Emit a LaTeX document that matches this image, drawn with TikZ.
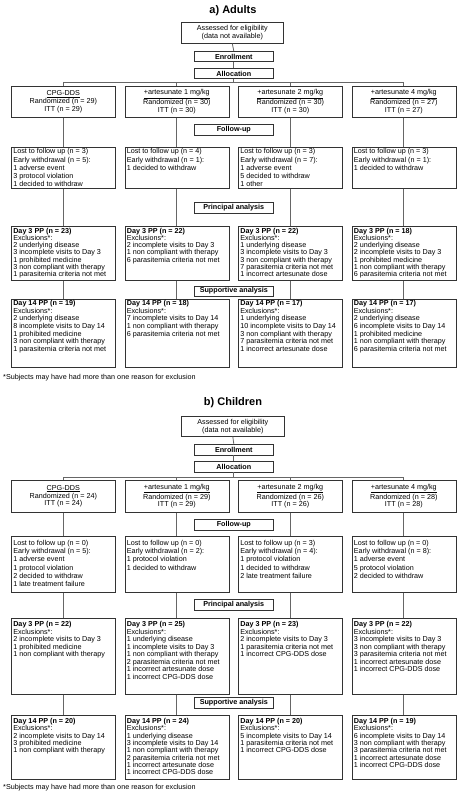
\documentclass[tikz,border=0pt]{standalone}
\usepackage{fontspec}
\setmainfont{Liberation Sans}
\tikzset{
  cbox/.style={draw=black!80, line width=0.6pt, inner sep=0pt, anchor=north west},
  lbl/.style={draw=black!80, line width=0.6pt, inner sep=0pt, minimum width=79pt, minimum height=10.5pt, font=\fontsize{7.2}{8}\selectfont\bfseries, anchor=north west},
  conn/.style={draw=black!60, line width=0.8pt},
  ttl/.style={font=\fontsize{11}{13}\selectfont\bfseries, inner sep=0pt},
  fnote/.style={font=\fontsize{7.2}{8}\selectfont, inner sep=0pt, anchor=west},
}
% name, x, y, width, height, first baseline, line spacing, text
\newcommand{\LB}[8]{\node[cbox] (#1) at (#2,#3) {\parbox[c][#5pt][t]{#4pt}{\fontsize{7.2}{#7pt}\selectfont\raggedright\leftskip=2pt\rule{0pt}{#6pt}#8\par}};}
\newcommand{\CB}[6]{\node[cbox] (#1) at (#2,#3) {\parbox[c][#5pt][c]{#4pt}{\fontsize{7.2}{7.9}\selectfont\centering #6\par}};}
\begin{document}
\begin{tikzpicture}[x=1pt,y=-1pt]
\useasboundingbox (0,0) rectangle (456,797);
% ================= ADULTS =================
\node[ttl] (A-t) at (233,11) {a) Adults};
\CB{A-as}{181}{22}{102}{21}{Assessed for eligibility\\(data not available)}
\node[lbl] (A-en) at (194,51) {Enrollment};
\node[lbl] (A-al) at (194,68) {Allocation};
\coordinate (A-hy) at (0,82);
\CB{A-a1}{11}{86}{104}{31}{\underline{CPG-DDS}\\Randomized (n = 29)\\ITT (n = 29)}
\CB{A-a2}{124.5}{86}{104}{31}{\underline{+artesunate 1 mg/kg}\\Randomized (n = 30)\\ITT (n = 30)}
\CB{A-a3}{238}{86}{104}{31}{\underline{+artesunate 2 mg/kg}\\Randomized (n = 30)\\ITT (n = 30)}
\CB{A-a4}{351.5}{86}{104}{31}{\underline{+artesunate 4 mg/kg}\\Randomized (n = 27)\\ITT (n = 27)}
\node[lbl] (A-fu) at (194,124) {Follow-up};
\LB{A-l1}{11}{147}{104}{41}{6.6}{8.1}{Lost to follow up (n = 3)\\Early withdrawal (n = 5):\\1 adverse event\\3 protocol violation\\1 decided to withdraw}
\LB{A-l2}{124.5}{147}{104}{41}{6.6}{8.1}{Lost to follow up (n = 4)\\Early withdrawal (n = 1):\\1 decided to withdraw}
\LB{A-l3}{238}{147}{104}{41}{6.6}{8.1}{Lost to follow up (n = 3)\\Early withdrawal (n = 7):\\1 adverse event\\5 decided to withdraw\\1 other}
\LB{A-l4}{351.5}{147}{104}{41}{6.6}{8.1}{Lost to follow up (n = 3)\\Early withdrawal (n = 1):\\1 decided to withdraw}
\node[lbl] (A-pa) at (194,202) {Principal analysis};
\LB{A-d1}{11}{226}{104}{54}{7}{7.2}{\textbf{Day 3 PP (n = 23)}\\Exclusions*:\\2 underlying disease\\3 incomplete visits to Day 3\\1 prohibited medicine\\3 non compliant with therapy\\1 parasitemia criteria not met}
\LB{A-d2}{124.5}{226}{104}{54}{7}{7.2}{\textbf{Day 3 PP (n = 22)}\\Exclusions*:\\2 incomplete visits to Day 3\\1 non compliant with therapy\\6 parasitemia criteria not met}
\LB{A-d3}{238}{226}{104}{54}{7}{7.2}{\textbf{Day 3 PP (n = 22)}\\Exclusions*:\\1 underlying disease\\3 incomplete visits to Day 3\\3 non compliant with therapy\\7 parasitemia criteria not met\\1 incorrect artesunate dose}
\LB{A-d4}{351.5}{226}{104}{54}{7}{7.2}{\textbf{Day 3 PP (n = 18)}\\Exclusions*:\\2 underlying disease\\2 incomplete visits to Day 3\\1 prohibited medicine\\1 non compliant with therapy\\6 parasitemia criteria not met}
\node[lbl] (A-sa) at (194,285.5) {Supportive analysis};
\LB{A-e1}{11}{298.5}{104}{68.5}{6.8}{7.65}{\textbf{Day 14 PP (n = 19)}\\Exclusions*:\\2 underlying disease\\8 incomplete visits to Day 14\\1 prohibited medicine\\3 non compliant with therapy\\1 parasitemia criteria not met}
\LB{A-e2}{124.5}{298.5}{104}{68.5}{6.8}{7.65}{\textbf{Day 14 PP (n = 18)}\\Exclusions*:\\7 incomplete visits to Day 14\\1 non compliant with therapy\\6 parasitemia criteria not met}
\LB{A-e3}{238}{298.5}{104}{68.5}{6.8}{7.65}{\textbf{Day 14 PP (n = 17)}\\Exclusions*:\\1 underlying disease\\10 incomplete visits to Day 14\\3 non compliant with therapy\\7 parasitemia criteria not met\\1 incorrect artesunate dose}
\LB{A-e4}{351.5}{298.5}{104}{68.5}{6.8}{7.65}{\textbf{Day 14 PP (n = 17)}\\Exclusions*:\\2 underlying disease\\6 incomplete visits to Day 14\\1 prohibited medicine\\1 non compliant with therapy\\6 parasitemia criteria not met}
\node[fnote] (A-fn) at (3,378) {*Subjects may have had more than one reason for exclusion};
\draw[conn] (A-as.south) -- (A-en.north);
\draw[conn] (A-en.south) -- (A-al.north);
\draw[conn] (A-al.south) -- (A-al.south |- A-hy);
\draw[conn] (A-a1.north |- A-hy) -- (A-a4.north |- A-hy);
\foreach \i in {1,2,3,4}{
  \draw[conn] (A-a\i.north |- A-hy) -- (A-a\i.north);
  \draw[conn] (A-a\i.south) -- (A-l\i.north);
  \draw[conn] (A-l\i.south) -- (A-d\i.north);
  \draw[conn] (A-d\i.south) -- (A-e\i.north);
}
% ================= CHILDREN =================
\node[ttl] (C-t) at (233,403) {b) Children};
\CB{C-as}{181}{416}{103}{20}{Assessed for eligibility\\(data not available)}
\node[lbl] (C-en) at (194,444) {Enrollment};
\node[lbl] (C-al) at (194,461) {Allocation};
\coordinate (C-hy) at (0,477);
\CB{C-a1}{11}{480}{104}{32}{\underline{CPG-DDS}\\Randomized (n = 24)\\ITT (n = 24)}
\CB{C-a2}{124.5}{480}{104}{32}{\underline{+artesunate 1 mg/kg}\\Randomized (n = 29)\\ITT (n = 29)}
\CB{C-a3}{238}{480}{104}{32}{\underline{+artesunate 2 mg/kg}\\Randomized (n = 26)\\ITT (n = 26)}
\CB{C-a4}{351.5}{480}{104}{32}{\underline{+artesunate 4 mg/kg}\\Randomized (n = 28)\\ITT (n = 28)}
\node[lbl] (C-fu) at (194,519) {Follow-up};
\LB{C-l1}{11}{536}{104}{56}{8.8}{8.3}{Lost to follow up (n = 0)\\Early withdrawal (n = 5):\\1 adverse event\\1 protocol violation\\2 decided to withdraw\\1 late treatment failure}
\LB{C-l2}{124.5}{536}{104}{56}{8.8}{8.3}{Lost to follow up (n = 0)\\Early withdrawal (n = 2):\\1 protocol violation\\1 decided to withdraw}
\LB{C-l3}{238}{536}{104}{56}{8.8}{8.3}{Lost to follow up (n = 3)\\Early withdrawal (n = 4):\\1 protocol violation\\1 decided to withdraw\\2 late treatment failure}
\LB{C-l4}{351.5}{536}{104}{56}{8.8}{8.3}{Lost to follow up (n = 0)\\Early withdrawal (n = 8):\\1 adverse event\\5 protocol violation\\2 decided to withdraw}
\node[lbl] (C-pa) at (194,599) {Principal analysis};
\LB{C-d1}{11}{618}{104}{76}{8.6}{7.5}{\textbf{Day 3 PP (n = 22)}\\Exclusions*:\\2 incomplete visits to Day 3\\1 prohibited medicine\\1 non compliant with therapy}
\LB{C-d2}{124.5}{618}{104}{76}{8.6}{7.5}{\textbf{Day 3 PP (n = 25)}\\Exclusions*:\\1 underlying disease\\1 incomplete visits to Day 3\\1 non compliant with therapy\\2 parasitemia criteria not met\\1 incorrect artesunate dose\\1 incorrect CPG-DDS dose}
\LB{C-d3}{238}{618}{104}{76}{8.6}{7.5}{\textbf{Day 3 PP (n = 23)}\\Exclusions*:\\2 incomplete visits to Day 3\\1 parasitemia criteria not met\\1 incorrect CPG-DDS dose}
\LB{C-d4}{351.5}{618}{104}{76}{8.6}{7.5}{\textbf{Day 3 PP (n = 22)}\\Exclusions*:\\3 incomplete visits to Day 3\\3 non compliant with therapy\\3 parasitemia criteria not met\\1 incorrect artesunate dose\\1 incorrect CPG-DDS dose}
\node[lbl] (C-sa) at (194,697) {Supportive analysis};
\LB{C-e1}{11}{715}{104}{64}{8.2}{7.35}{\textbf{Day 14 PP (n = 20)}\\Exclusions*:\\2 incomplete visits to Day 14\\3 prohibited medicine\\1 non compliant with therapy}
\LB{C-e2}{124.5}{715}{104}{64}{8.2}{7.35}{\textbf{Day 14 PP (n = 24)}\\Exclusions*:\\1 underlying disease\\3 incomplete visits to Day 14\\1 non compliant with therapy\\2 parasitemia criteria not met\\1 incorrect artesunate dose\\1 incorrect CPG-DDS dose}
\LB{C-e3}{238}{715}{104}{64}{8.2}{7.35}{\textbf{Day 14 PP (n = 20)}\\Exclusions*:\\5 incomplete visits to Day 14\\1 parasitemia criteria not met\\1 incorrect CPG-DDS dose}
\LB{C-e4}{351.5}{715}{104}{64}{8.2}{7.35}{\textbf{Day 14 PP (n = 19)}\\Exclusions*:\\6 incomplete visits to Day 14\\3 non compliant with therapy\\3 parasitemia criteria not met\\1 incorrect artesunate dose\\1 incorrect CPG-DDS dose}
\node[fnote] (C-fn) at (3,788) {*Subjects may have had more than one reason for exclusion};
\draw[conn] (C-as.south) -- (C-en.north);
\draw[conn] (C-en.south) -- (C-al.north);
\draw[conn] (C-al.south) -- (C-al.south |- C-hy);
\draw[conn] (C-a1.north |- C-hy) -- (C-a4.north |- C-hy);
\foreach \i in {1,2,3,4}{
  \draw[conn] (C-a\i.north |- C-hy) -- (C-a\i.north);
  \draw[conn] (C-a\i.south) -- (C-l\i.north);
  \draw[conn] (C-l\i.south) -- (C-d\i.north);
  \draw[conn] (C-d\i.south) -- (C-e\i.north);
}
\end{tikzpicture}
\end{document}
